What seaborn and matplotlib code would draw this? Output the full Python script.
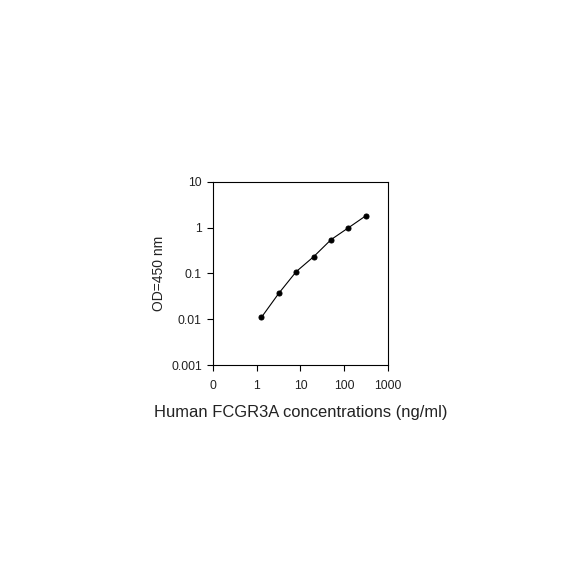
import matplotlib
matplotlib.use("Agg")
import matplotlib.pyplot as plt
import seaborn as sns
import pandas as pd

# standard curve, 2.5-fold dilutions
conc = [1.28, 3.2, 8, 20, 50, 125, 312.5]
od = [0.011, 0.037, 0.11, 0.233, 0.55, 1.0, 1.83]

x_ticks = [0.1, 1, 10, 100, 1000]
x_labels = ['0', '1', '10', '100', '1000']
y_ticks = [0.001, 0.01, 0.1, 1, 10]
y_labels = ['0.001', '0.01', '0.1', '1', '10']

df = pd.DataFrame({'conc': conc, 'od': od})

sns.set_style("white")
plt.rcParams['font.family'] = ['Liberation Sans', 'DejaVu Sans']

fig = plt.figure(figsize=(5.84, 5.84), dpi=100)
ax = fig.add_axes([0.3647, 0.375, 0.2997, 0.3134])

sns.lineplot(data=df, x='conc', y='od', ax=ax, color='black', linewidth=0.8,
             marker='o', markersize=3.6, markeredgecolor='black', markerfacecolor='black')

ax.set_xscale('log')
ax.set_yscale('log')
ax.set_xlim(0.1, 1000)
ax.set_ylim(0.001, 10)
ax.set_xticks(x_ticks)
ax.set_xticklabels(x_labels)
ax.set_yticks(y_ticks)
ax.set_yticklabels(y_labels)
ax.minorticks_off()
ax.tick_params(axis='both', direction='out', length=4, width=0.8, color='black',
               labelsize=8.8, labelcolor='#222222', bottom=True, left=True, pad=4)
ax.tick_params(axis='x', pad=7)

for s in ax.spines.values():
    s.set_color('black')
    s.set_linewidth(0.8)

ax.set_xlabel('Human FCGR3A concentrations (ng/ml)', fontsize=11.9, color='#222222', labelpad=9)
ax.set_ylabel('OD=450 nm', fontsize=10, color='#222222', labelpad=4)

fig.savefig('out.png', dpi=100, facecolor='white')
